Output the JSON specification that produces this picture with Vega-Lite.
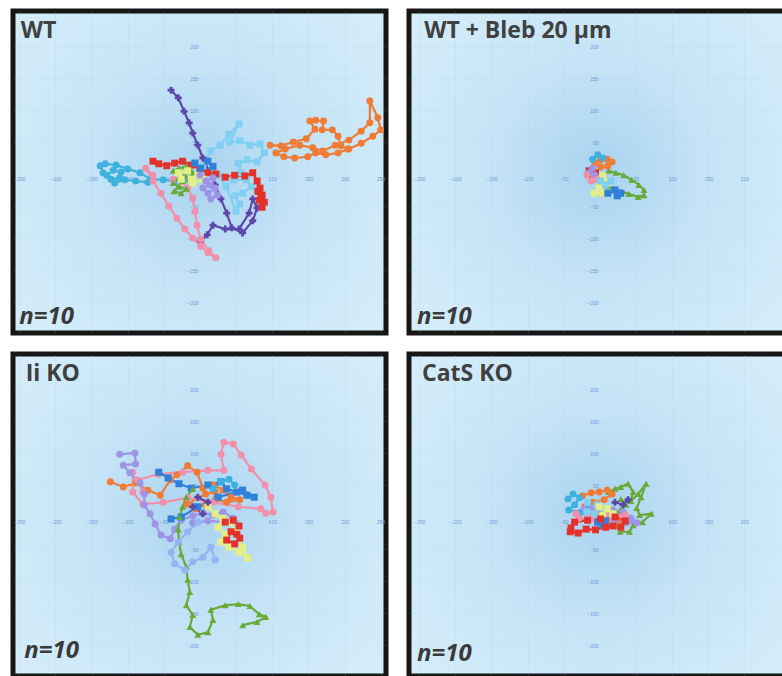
{
"$schema":"https://vega.github.io/schema/vega-lite/v6.json",
"padding":{"left":10,"top":8,"right":-4,"bottom":3},
"background":"white",
"bounds":"flush",
"align":"each",
"columns":2,
"spacing":{"row":21,"column":23},
"config":{
 "axis":{"domain":false,"ticks":false,"labelFontSize":5,"labelColor":"#6a9bd8","labelPadding":2,"labelFont":"Liberation Sans","grid":true,"gridColor":"#9fc9e6","gridOpacity":0.25,"gridWidth":0.6,"labelFlush":false,"labelOverlap":false,"title":null},
 "view":{"stroke":"#161616","strokeWidth":5}
},
"datasets":{
"labels":[
{"p":"WT","k":"title","t":"WT"},{"p":"WT","k":"n","t":"n=10"},
{"p":"Bleb","k":"title","t":"WT + Bleb 20 µm"},{"p":"Bleb","k":"n","t":"n=10"},
{"p":"Ii","k":"title","t":"Ii KO"},{"p":"Ii","k":"n","t":"n=10"},
{"p":"CatS","k":"title","t":"CatS KO"},{"p":"CatS","k":"n","t":"n=10"}
],
"tracks":[
{"p":"WT","s":"purple","i":0,"x":-40,"y":131},{"p":"WT","s":"purple","i":1,"x":-30,"y":119},{"p":"WT","s":"purple","i":2,"x":-22,"y":98},{"p":"WT","s":"purple","i":3,"x":-15,"y":80},{"p":"WT","s":"purple","i":4,"x":-10,"y":64},{"p":"WT","s":"purple","i":5,"x":-3,"y":45},{"p":"WT","s":"purple","i":6,"x":4,"y":25},{"p":"WT","s":"purple","i":7,"x":12,"y":5},{"p":"WT","s":"purple","i":8,"x":21,"y":-17},{"p":"WT","s":"purple","i":9,"x":29,"y":-39},{"p":"WT","s":"purple","i":10,"x":37,"y":-61},{"p":"WT","s":"purple","i":11,"x":44,"y":-84},{"p":"WT","s":"purple","i":12,"x":59,"y":-92},{"p":"WT","s":"purple","i":13,"x":73,"y":-73},{"p":"WT","s":"purple","i":14,"x":79,"y":-53},{"p":"WT","s":"purple","i":15,"x":73,"y":-39},{"p":"WT","s":"purple","i":16,"x":68,"y":-61},{"p":"WT","s":"purple","i":17,"x":54,"y":-86},{"p":"WT","s":"purple","i":18,"x":35,"y":-86},{"p":"WT","s":"purple","i":19,"x":18,"y":-80},{"p":"WT","s":"purple","i":20,"x":10,"y":-95},{"p":"WT","s":"purple","i":21,"x":1,"y":-105},
{"p":"WT","s":"orange","i":0,"x":97,"y":45},{"p":"WT","s":"orange","i":1,"x":112,"y":44},{"p":"WT","s":"orange","i":2,"x":129,"y":50},{"p":"WT","s":"orange","i":3,"x":147,"y":55},{"p":"WT","s":"orange","i":4,"x":159,"y":70},{"p":"WT","s":"orange","i":5,"x":152,"y":83},{"p":"WT","s":"orange","i":6,"x":160,"y":84},{"p":"WT","s":"orange","i":7,"x":171,"y":83},{"p":"WT","s":"orange","i":8,"x":169,"y":69},{"p":"WT","s":"orange","i":9,"x":183,"y":69},{"p":"WT","s":"orange","i":10,"x":191,"y":59},{"p":"WT","s":"orange","i":11,"x":195,"y":44},{"p":"WT","s":"orange","i":12,"x":205,"y":39},{"p":"WT","s":"orange","i":13,"x":191,"y":33},{"p":"WT","s":"orange","i":14,"x":174,"y":30},{"p":"WT","s":"orange","i":15,"x":160,"y":33},{"p":"WT","s":"orange","i":16,"x":149,"y":27},{"p":"WT","s":"orange","i":17,"x":131,"y":25},{"p":"WT","s":"orange","i":18,"x":116,"y":27},{"p":"WT","s":"orange","i":19,"x":105,"y":33},{"p":"WT","s":"orange","i":20,"x":118,"y":39},{"p":"WT","s":"orange","i":21,"x":138,"y":45},{"p":"WT","s":"orange","i":22,"x":156,"y":41},{"p":"WT","s":"orange","i":23,"x":170,"y":36},{"p":"WT","s":"orange","i":24,"x":187,"y":45},{"p":"WT","s":"orange","i":25,"x":206,"y":53},{"p":"WT","s":"orange","i":26,"x":223,"y":67},{"p":"WT","s":"orange","i":27,"x":235,"y":80},{"p":"WT","s":"orange","i":28,"x":235,"y":114},{"p":"WT","s":"orange","i":29,"x":246,"y":88},{"p":"WT","s":"orange","i":30,"x":250,"y":69},{"p":"WT","s":"orange","i":31,"x":239,"y":59},{"p":"WT","s":"orange","i":32,"x":223,"y":48},{"p":"WT","s":"orange","i":33,"x":206,"y":39},
{"p":"WT","s":"ltblue","i":0,"x":4,"y":12},{"p":"WT","s":"ltblue","i":1,"x":15,"y":36},{"p":"WT","s":"ltblue","i":2,"x":28,"y":45},{"p":"WT","s":"ltblue","i":3,"x":40,"y":62},{"p":"WT","s":"ltblue","i":4,"x":54,"y":78},{"p":"WT","s":"ltblue","i":5,"x":41,"y":50},{"p":"WT","s":"ltblue","i":6,"x":55,"y":52},{"p":"WT","s":"ltblue","i":7,"x":69,"y":45},{"p":"WT","s":"ltblue","i":8,"x":83,"y":47},{"p":"WT","s":"ltblue","i":9,"x":89,"y":33},{"p":"WT","s":"ltblue","i":10,"x":79,"y":19},{"p":"WT","s":"ltblue","i":11,"x":65,"y":22},{"p":"WT","s":"ltblue","i":12,"x":53,"y":17},{"p":"WT","s":"ltblue","i":13,"x":57,"y":2},{"p":"WT","s":"ltblue","i":14,"x":46,"y":-9},{"p":"WT","s":"ltblue","i":15,"x":64,"y":-9},{"p":"WT","s":"ltblue","i":16,"x":71,"y":-20},{"p":"WT","s":"ltblue","i":17,"x":59,"y":-30},{"p":"WT","s":"ltblue","i":18,"x":48,"y":-34},{"p":"WT","s":"ltblue","i":19,"x":55,"y":-47},{"p":"WT","s":"ltblue","i":20,"x":50,"y":-58},{"p":"WT","s":"ltblue","i":21,"x":36,"y":-19},{"p":"WT","s":"ltblue","i":22,"x":25,"y":-2},{"p":"WT","s":"ltblue","i":23,"x":17,"y":8},
{"p":"WT","s":"red","i":0,"x":-65,"y":20},{"p":"WT","s":"red","i":1,"x":-57,"y":16},{"p":"WT","s":"red","i":2,"x":-46,"y":13},{"p":"WT","s":"red","i":3,"x":-35,"y":17},{"p":"WT","s":"red","i":4,"x":-24,"y":20},{"p":"WT","s":"red","i":5,"x":-12,"y":14},{"p":"WT","s":"red","i":6,"x":0,"y":8},{"p":"WT","s":"red","i":7,"x":11,"y":2},{"p":"WT","s":"red","i":8,"x":22,"y":0},{"p":"WT","s":"red","i":9,"x":35,"y":-5},{"p":"WT","s":"red","i":10,"x":48,"y":-2},{"p":"WT","s":"red","i":11,"x":62,"y":-3},{"p":"WT","s":"red","i":12,"x":73,"y":2},{"p":"WT","s":"red","i":13,"x":79,"y":-11},{"p":"WT","s":"red","i":14,"x":83,"y":-22},{"p":"WT","s":"red","i":15,"x":86,"y":-33},{"p":"WT","s":"red","i":16,"x":89,"y":-44},{"p":"WT","s":"red","i":17,"x":86,"y":-52},{"p":"WT","s":"red","i":18,"x":82,"y":-41},{"p":"WT","s":"red","i":19,"x":80,"y":-27},
{"p":"WT","s":"cyan","i":0,"x":-17,"y":-8},{"p":"WT","s":"cyan","i":1,"x":-35,"y":-11},{"p":"WT","s":"cyan","i":2,"x":-51,"y":-9},{"p":"WT","s":"cyan","i":3,"x":-68,"y":-8},{"p":"WT","s":"cyan","i":4,"x":-83,"y":2},{"p":"WT","s":"cyan","i":5,"x":-100,"y":8},{"p":"WT","s":"cyan","i":6,"x":-116,"y":14},{"p":"WT","s":"cyan","i":7,"x":-131,"y":16},{"p":"WT","s":"cyan","i":8,"x":-138,"y":13},{"p":"WT","s":"cyan","i":9,"x":-134,"y":2},{"p":"WT","s":"cyan","i":10,"x":-123,"y":-8},{"p":"WT","s":"cyan","i":11,"x":-111,"y":-6},{"p":"WT","s":"cyan","i":12,"x":-109,"y":3},{"p":"WT","s":"cyan","i":13,"x":-120,"y":6},{"p":"WT","s":"cyan","i":14,"x":-129,"y":-2},{"p":"WT","s":"cyan","i":15,"x":-118,"y":-14},{"p":"WT","s":"cyan","i":16,"x":-104,"y":-9},{"p":"WT","s":"cyan","i":17,"x":-89,"y":-11},{"p":"WT","s":"cyan","i":18,"x":-72,"y":-13},
{"p":"WT","s":"pink","i":0,"x":-65,"y":-2},{"p":"WT","s":"pink","i":1,"x":-75,"y":9},{"p":"WT","s":"pink","i":2,"x":-65,"y":-11},{"p":"WT","s":"pink","i":3,"x":-54,"y":-30},{"p":"WT","s":"pink","i":4,"x":-43,"y":-50},{"p":"WT","s":"pink","i":5,"x":-32,"y":-69},{"p":"WT","s":"pink","i":6,"x":-21,"y":-86},{"p":"WT","s":"pink","i":7,"x":-10,"y":-100},{"p":"WT","s":"pink","i":8,"x":1,"y":-113},{"p":"WT","s":"pink","i":9,"x":11,"y":-123},{"p":"WT","s":"pink","i":10,"x":22,"y":-131},{"p":"WT","s":"pink","i":11,"x":12,"y":-120},{"p":"WT","s":"pink","i":12,"x":1,"y":-102},{"p":"WT","s":"pink","i":13,"x":-4,"y":-80},{"p":"WT","s":"pink","i":14,"x":-7,"y":-58},{"p":"WT","s":"pink","i":15,"x":-10,"y":-38},{"p":"WT","s":"pink","i":16,"x":-17,"y":-22},{"p":"WT","s":"pink","i":17,"x":-26,"y":-11},{"p":"WT","s":"pink","i":18,"x":-37,"y":-8},
{"p":"WT","s":"green","i":0,"x":-37,"y":5},{"p":"WT","s":"green","i":1,"x":-29,"y":9},{"p":"WT","s":"green","i":2,"x":-19,"y":12},{"p":"WT","s":"green","i":3,"x":-12,"y":5},{"p":"WT","s":"green","i":4,"x":-21,"y":-2},{"p":"WT","s":"green","i":5,"x":-30,"y":-6},{"p":"WT","s":"green","i":6,"x":-37,"y":-14},{"p":"WT","s":"green","i":7,"x":-29,"y":-20},{"p":"WT","s":"green","i":8,"x":-19,"y":-23},{"p":"WT","s":"green","i":9,"x":-26,"y":-30},{"p":"WT","s":"green","i":10,"x":-36,"y":-27},{"p":"WT","s":"green","i":11,"x":-24,"y":-11},{"p":"WT","s":"green","i":12,"x":-15,"y":-8},{"p":"WT","s":"green","i":13,"x":-10,"y":2},
{"p":"WT","s":"yellow","i":0,"x":-30,"y":2},{"p":"WT","s":"yellow","i":1,"x":-17,"y":5},{"p":"WT","s":"yellow","i":2,"x":-3,"y":-2},{"p":"WT","s":"yellow","i":3,"x":-12,"y":-8},{"p":"WT","s":"yellow","i":4,"x":-26,"y":-8},{"p":"WT","s":"yellow","i":5,"x":-10,"y":-14},{"p":"WT","s":"yellow","i":6,"x":4,"y":-8},
{"p":"WT","s":"lavender","i":0,"x":0,"y":-2},{"p":"WT","s":"lavender","i":1,"x":8,"y":-11},{"p":"WT","s":"lavender","i":2,"x":18,"y":-6},{"p":"WT","s":"lavender","i":3,"x":21,"y":-22},{"p":"WT","s":"lavender","i":4,"x":11,"y":-30},{"p":"WT","s":"lavender","i":5,"x":4,"y":-22},{"p":"WT","s":"lavender","i":6,"x":14,"y":-17},{"p":"WT","s":"lavender","i":7,"x":24,"y":-33},{"p":"WT","s":"lavender","i":8,"x":15,"y":-39},
{"p":"WT","s":"blue","i":0,"x":-7,"y":17},{"p":"WT","s":"blue","i":1,"x":1,"y":9},{"p":"WT","s":"blue","i":2,"x":11,"y":20},{"p":"WT","s":"blue","i":3,"x":18,"y":12},
{"p":"Ii","s":"orange","i":0,"x":-124,"y":55},{"p":"Ii","s":"orange","i":1,"x":-106,"y":47},{"p":"Ii","s":"orange","i":2,"x":-89,"y":53},{"p":"Ii","s":"orange","i":3,"x":-72,"y":42},{"p":"Ii","s":"orange","i":4,"x":-55,"y":34},{"p":"Ii","s":"orange","i":5,"x":-41,"y":58},{"p":"Ii","s":"orange","i":6,"x":-32,"y":66},{"p":"Ii","s":"orange","i":7,"x":-17,"y":80},{"p":"Ii","s":"orange","i":8,"x":-4,"y":70},{"p":"Ii","s":"orange","i":9,"x":4,"y":45},{"p":"Ii","s":"orange","i":10,"x":18,"y":50},{"p":"Ii","s":"orange","i":11,"x":32,"y":42},{"p":"Ii","s":"orange","i":12,"x":43,"y":31},{"p":"Ii","s":"orange","i":13,"x":55,"y":27},{"p":"Ii","s":"orange","i":14,"x":37,"y":23},{"p":"Ii","s":"orange","i":15,"x":22,"y":28},{"p":"Ii","s":"orange","i":16,"x":8,"y":20},{"p":"Ii","s":"orange","i":17,"x":-6,"y":13},{"p":"Ii","s":"orange","i":18,"x":-18,"y":20},{"p":"Ii","s":"orange","i":19,"x":8,"y":36},{"p":"Ii","s":"orange","i":20,"x":21,"y":39},
{"p":"Ii","s":"pink","i":0,"x":-93,"y":70},{"p":"Ii","s":"pink","i":1,"x":-93,"y":39},{"p":"Ii","s":"pink","i":2,"x":-79,"y":20},{"p":"Ii","s":"pink","i":3,"x":-51,"y":23},{"p":"Ii","s":"pink","i":4,"x":-17,"y":30},{"p":"Ii","s":"pink","i":5,"x":18,"y":23},{"p":"Ii","s":"pink","i":6,"x":53,"y":16},{"p":"Ii","s":"pink","i":7,"x":84,"y":13},{"p":"Ii","s":"pink","i":8,"x":91,"y":6},{"p":"Ii","s":"pink","i":9,"x":101,"y":8},{"p":"Ii","s":"pink","i":10,"x":98,"y":31},{"p":"Ii","s":"pink","i":11,"x":90,"y":50},{"p":"Ii","s":"pink","i":12,"x":71,"y":75},{"p":"Ii","s":"pink","i":13,"x":57,"y":97},{"p":"Ii","s":"pink","i":14,"x":46,"y":114},{"p":"Ii","s":"pink","i":15,"x":33,"y":117},{"p":"Ii","s":"pink","i":16,"x":29,"y":98},{"p":"Ii","s":"pink","i":17,"x":33,"y":73},{"p":"Ii","s":"pink","i":18,"x":11,"y":73},{"p":"Ii","s":"pink","i":19,"x":-24,"y":70},{"p":"Ii","s":"pink","i":20,"x":-58,"y":67},{"p":"Ii","s":"pink","i":21,"x":-86,"y":58},{"p":"Ii","s":"pink","i":22,"x":-79,"y":39},
{"p":"Ii","s":"lavender","i":0,"x":-111,"y":98},{"p":"Ii","s":"lavender","i":1,"x":-90,"y":100},{"p":"Ii","s":"lavender","i":2,"x":-89,"y":83},{"p":"Ii","s":"lavender","i":3,"x":-106,"y":81},{"p":"Ii","s":"lavender","i":4,"x":-97,"y":69},{"p":"Ii","s":"lavender","i":5,"x":-83,"y":53},{"p":"Ii","s":"lavender","i":6,"x":-77,"y":36},{"p":"Ii","s":"lavender","i":7,"x":-77,"y":19},{"p":"Ii","s":"lavender","i":8,"x":-69,"y":5},{"p":"Ii","s":"lavender","i":9,"x":-62,"y":-11},{"p":"Ii","s":"lavender","i":10,"x":-54,"y":-28},{"p":"Ii","s":"lavender","i":11,"x":-41,"y":-34},{"p":"Ii","s":"lavender","i":12,"x":-35,"y":-19},{"p":"Ii","s":"lavender","i":13,"x":-26,"y":-5},{"p":"Ii","s":"lavender","i":14,"x":-10,"y":2},{"p":"Ii","s":"lavender","i":15,"x":4,"y":6},{"p":"Ii","s":"lavender","i":16,"x":18,"y":3},{"p":"Ii","s":"lavender","i":17,"x":32,"y":8},{"p":"Ii","s":"lavender","i":18,"x":46,"y":-2},{"p":"Ii","s":"lavender","i":19,"x":35,"y":-8},{"p":"Ii","s":"lavender","i":20,"x":11,"y":-6},{"p":"Ii","s":"lavender","i":21,"x":-10,"y":-9},
{"p":"Ii","s":"blue","i":0,"x":-57,"y":70},{"p":"Ii","s":"blue","i":1,"x":-44,"y":61},{"p":"Ii","s":"blue","i":2,"x":-29,"y":52},{"p":"Ii","s":"blue","i":3,"x":-12,"y":45},{"p":"Ii","s":"blue","i":4,"x":11,"y":50},{"p":"Ii","s":"blue","i":5,"x":29,"y":55},{"p":"Ii","s":"blue","i":6,"x":37,"y":44},{"p":"Ii","s":"blue","i":7,"x":51,"y":39},{"p":"Ii","s":"blue","i":8,"x":65,"y":34},{"p":"Ii","s":"blue","i":9,"x":75,"y":31},{"p":"Ii","s":"blue","i":10,"x":59,"y":42},{"p":"Ii","s":"blue","i":11,"x":25,"y":31},{"p":"Ii","s":"blue","i":12,"x":-3,"y":16},{"p":"Ii","s":"blue","i":13,"x":-26,"y":0},{"p":"Ii","s":"blue","i":14,"x":-40,"y":-3},
{"p":"Ii","s":"green","i":0,"x":-10,"y":44},{"p":"Ii","s":"green","i":1,"x":-19,"y":31},{"p":"Ii","s":"green","i":2,"x":-24,"y":16},{"p":"Ii","s":"green","i":3,"x":-28,"y":0},{"p":"Ii","s":"green","i":4,"x":-30,"y":-19},{"p":"Ii","s":"green","i":5,"x":-29,"y":-39},{"p":"Ii","s":"green","i":6,"x":-26,"y":-58},{"p":"Ii","s":"green","i":7,"x":-19,"y":-78},{"p":"Ii","s":"green","i":8,"x":-17,"y":-98},{"p":"Ii","s":"green","i":9,"x":-14,"y":-117},{"p":"Ii","s":"green","i":10,"x":-19,"y":-138},{"p":"Ii","s":"green","i":11,"x":-10,"y":-153},{"p":"Ii","s":"green","i":12,"x":-14,"y":-172},{"p":"Ii","s":"green","i":13,"x":-3,"y":-184},{"p":"Ii","s":"green","i":14,"x":11,"y":-180},{"p":"Ii","s":"green","i":15,"x":18,"y":-161},{"p":"Ii","s":"green","i":16,"x":15,"y":-145},{"p":"Ii","s":"green","i":17,"x":35,"y":-138},{"p":"Ii","s":"green","i":18,"x":53,"y":-136},{"p":"Ii","s":"green","i":19,"x":69,"y":-139},{"p":"Ii","s":"green","i":20,"x":82,"y":-152},{"p":"Ii","s":"green","i":21,"x":91,"y":-156},{"p":"Ii","s":"green","i":22,"x":79,"y":-164},{"p":"Ii","s":"green","i":23,"x":59,"y":-169},
{"p":"Ii","s":"yellow","i":0,"x":11,"y":16},{"p":"Ii","s":"yellow","i":1,"x":21,"y":5},{"p":"Ii","s":"yellow","i":2,"x":32,"y":-2},{"p":"Ii","s":"yellow","i":3,"x":25,"y":-16},{"p":"Ii","s":"yellow","i":4,"x":35,"y":-27},{"p":"Ii","s":"yellow","i":5,"x":29,"y":-39},{"p":"Ii","s":"yellow","i":6,"x":40,"y":-47},{"p":"Ii","s":"yellow","i":7,"x":54,"y":-55},{"p":"Ii","s":"yellow","i":8,"x":66,"y":-64},{"p":"Ii","s":"yellow","i":9,"x":59,"y":-47},{"p":"Ii","s":"yellow","i":10,"x":50,"y":-23},{"p":"Ii","s":"yellow","i":11,"x":40,"y":-8},
{"p":"Ii","s":"red","i":0,"x":35,"y":-8},{"p":"Ii","s":"red","i":1,"x":46,"y":-5},{"p":"Ii","s":"red","i":2,"x":54,"y":-14},{"p":"Ii","s":"red","i":3,"x":51,"y":-27},{"p":"Ii","s":"red","i":4,"x":43,"y":-23},{"p":"Ii","s":"red","i":5,"x":37,"y":-36},{"p":"Ii","s":"red","i":6,"x":48,"y":-42},{"p":"Ii","s":"red","i":7,"x":55,"y":-33},
{"p":"Ii","s":"peri","i":0,"x":-3,"y":-8},{"p":"Ii","s":"peri","i":1,"x":-17,"y":-23},{"p":"Ii","s":"peri","i":2,"x":-30,"y":-39},{"p":"Ii","s":"peri","i":3,"x":-40,"y":-55},{"p":"Ii","s":"peri","i":4,"x":-35,"y":-73},{"p":"Ii","s":"peri","i":5,"x":-21,"y":-83},{"p":"Ii","s":"peri","i":6,"x":-10,"y":-70},{"p":"Ii","s":"peri","i":7,"x":4,"y":-63},{"p":"Ii","s":"peri","i":8,"x":15,"y":-47},{"p":"Ii","s":"peri","i":9,"x":21,"y":-67},
{"p":"Ii","s":"cyan","i":0,"x":18,"y":44},{"p":"Ii","s":"cyan","i":1,"x":29,"y":55},{"p":"Ii","s":"cyan","i":2,"x":40,"y":59},{"p":"Ii","s":"cyan","i":3,"x":48,"y":50},
{"p":"Ii","s":"purple","i":0,"x":-10,"y":16},{"p":"Ii","s":"purple","i":1,"x":4,"y":5},{"p":"Ii","s":"purple","i":2,"x":11,"y":23},{"p":"Ii","s":"purple","i":3,"x":-3,"y":31},
{"p":"Bleb","s":"green","i":0,"x":12,"y":5},{"p":"Bleb","s":"green","i":1,"x":22,"y":2},{"p":"Bleb","s":"green","i":2,"x":33,"y":-2},{"p":"Bleb","s":"green","i":3,"x":44,"y":-9},{"p":"Bleb","s":"green","i":4,"x":54,"y":-17},{"p":"Bleb","s":"green","i":5,"x":61,"y":-25},{"p":"Bleb","s":"green","i":6,"x":61,"y":-33},{"p":"Bleb","s":"green","i":7,"x":53,"y":-36},{"p":"Bleb","s":"green","i":8,"x":40,"y":-31},{"p":"Bleb","s":"green","i":9,"x":29,"y":-27},{"p":"Bleb","s":"green","i":10,"x":19,"y":-23},{"p":"Bleb","s":"green","i":11,"x":12,"y":-19},
{"p":"Bleb","s":"orange","i":0,"x":-7,"y":17},{"p":"Bleb","s":"orange","i":1,"x":1,"y":22},{"p":"Bleb","s":"orange","i":2,"x":10,"y":23},{"p":"Bleb","s":"orange","i":3,"x":17,"y":19},{"p":"Bleb","s":"orange","i":4,"x":11,"y":12},{"p":"Bleb","s":"orange","i":5,"x":1,"y":11},
{"p":"Bleb","s":"red","i":0,"x":-15,"y":5},{"p":"Bleb","s":"red","i":1,"x":-11,"y":-2},{"p":"Bleb","s":"red","i":2,"x":-6,"y":2},{"p":"Bleb","s":"red","i":3,"x":-10,"y":-8},
{"p":"Bleb","s":"yellow","i":0,"x":-7,"y":-6},{"p":"Bleb","s":"yellow","i":1,"x":4,"y":-3},{"p":"Bleb","s":"yellow","i":2,"x":10,"y":-14},{"p":"Bleb","s":"yellow","i":3,"x":-1,"y":-20},{"p":"Bleb","s":"yellow","i":4,"x":-8,"y":-30},{"p":"Bleb","s":"yellow","i":5,"x":4,"y":-30},
{"p":"Bleb","s":"blue","i":0,"x":11,"y":-30},{"p":"Bleb","s":"blue","i":1,"x":21,"y":-25},{"p":"Bleb","s":"blue","i":2,"x":29,"y":-30},{"p":"Bleb","s":"blue","i":3,"x":24,"y":-34},
{"p":"Bleb","s":"cyan","i":0,"x":-10,"y":23},{"p":"Bleb","s":"cyan","i":1,"x":-3,"y":30},{"p":"Bleb","s":"cyan","i":2,"x":4,"y":25},
{"p":"Bleb","s":"lavender","i":0,"x":-10,"y":9},{"p":"Bleb","s":"lavender","i":1,"x":-15,"y":2},{"p":"Bleb","s":"lavender","i":2,"x":-7,"y":-2},
{"p":"Bleb","s":"pink","i":0,"x":-18,"y":-2},{"p":"Bleb","s":"pink","i":1,"x":-12,"y":-11},{"p":"Bleb","s":"pink","i":2,"x":-4,"y":-8},
{"p":"Bleb","s":"ltblue","i":0,"x":1,"y":-11},{"p":"Bleb","s":"ltblue","i":1,"x":8,"y":-17},{"p":"Bleb","s":"ltblue","i":2,"x":15,"y":-11},
{"p":"CatS","s":"green","i":0,"x":12,"y":39},{"p":"CatS","s":"green","i":1,"x":21,"y":44},{"p":"CatS","s":"green","i":2,"x":29,"y":47},{"p":"CatS","s":"green","i":3,"x":39,"y":52},{"p":"CatS","s":"green","i":4,"x":46,"y":39},{"p":"CatS","s":"green","i":5,"x":43,"y":25},{"p":"CatS","s":"green","i":6,"x":53,"y":36},{"p":"CatS","s":"green","i":7,"x":64,"y":52},{"p":"CatS","s":"green","i":8,"x":57,"y":31},{"p":"CatS","s":"green","i":9,"x":51,"y":14},{"p":"CatS","s":"green","i":10,"x":55,"y":3},{"p":"CatS","s":"green","i":11,"x":71,"y":5},{"p":"CatS","s":"green","i":12,"x":59,"y":-8},{"p":"CatS","s":"green","i":13,"x":46,"y":-13},{"p":"CatS","s":"green","i":14,"x":41,"y":-23},{"p":"CatS","s":"green","i":15,"x":28,"y":-23},{"p":"CatS","s":"green","i":16,"x":21,"y":-13},{"p":"CatS","s":"green","i":17,"x":28,"y":11},{"p":"CatS","s":"green","i":18,"x":36,"y":19},{"p":"CatS","s":"green","i":19,"x":29,"y":28},
{"p":"CatS","s":"orange","i":0,"x":-24,"y":33},{"p":"CatS","s":"orange","i":1,"x":-12,"y":38},{"p":"CatS","s":"orange","i":2,"x":-1,"y":39},{"p":"CatS","s":"orange","i":3,"x":10,"y":42},{"p":"CatS","s":"orange","i":4,"x":17,"y":36},{"p":"CatS","s":"orange","i":5,"x":6,"y":27},{"p":"CatS","s":"orange","i":6,"x":-10,"y":23},{"p":"CatS","s":"orange","i":7,"x":-21,"y":16},{"p":"CatS","s":"orange","i":8,"x":-3,"y":8},{"p":"CatS","s":"orange","i":9,"x":14,"y":-3},{"p":"CatS","s":"orange","i":10,"x":25,"y":-8},
{"p":"CatS","s":"cyan","i":0,"x":-44,"y":28},{"p":"CatS","s":"cyan","i":1,"x":-37,"y":36},{"p":"CatS","s":"cyan","i":2,"x":-28,"y":30},{"p":"CatS","s":"cyan","i":3,"x":-35,"y":19},{"p":"CatS","s":"cyan","i":4,"x":-43,"y":11},{"p":"CatS","s":"cyan","i":5,"x":-26,"y":8},{"p":"CatS","s":"cyan","i":6,"x":-15,"y":14},
{"p":"CatS","s":"lavender","i":0,"x":-21,"y":13},{"p":"CatS","s":"lavender","i":1,"x":-10,"y":14},{"p":"CatS","s":"lavender","i":2,"x":4,"y":8},{"p":"CatS","s":"lavender","i":3,"x":18,"y":11},{"p":"CatS","s":"lavender","i":4,"x":32,"y":8},{"p":"CatS","s":"lavender","i":5,"x":43,"y":-2},{"p":"CatS","s":"lavender","i":6,"x":51,"y":-9},{"p":"CatS","s":"lavender","i":7,"x":37,"y":-9},{"p":"CatS","s":"lavender","i":8,"x":21,"y":-6},
{"p":"CatS","s":"pink","i":0,"x":-33,"y":5},{"p":"CatS","s":"pink","i":1,"x":-10,"y":2},{"p":"CatS","s":"pink","i":2,"x":11,"y":6},{"p":"CatS","s":"pink","i":3,"x":35,"y":3},{"p":"CatS","s":"pink","i":4,"x":15,"y":-2},{"p":"CatS","s":"pink","i":5,"x":-10,"y":-3},{"p":"CatS","s":"pink","i":6,"x":-29,"y":-2},
{"p":"CatS","s":"ltblue","i":0,"x":-17,"y":23},{"p":"CatS","s":"ltblue","i":1,"x":-4,"y":19},{"p":"CatS","s":"ltblue","i":2,"x":4,"y":11},{"p":"CatS","s":"ltblue","i":3,"x":-7,"y":5},{"p":"CatS","s":"ltblue","i":4,"x":-18,"y":8},
{"p":"CatS","s":"yellow","i":0,"x":-1,"y":16},{"p":"CatS","s":"yellow","i":1,"x":10,"y":13},{"p":"CatS","s":"yellow","i":2,"x":18,"y":5},{"p":"CatS","s":"yellow","i":3,"x":4,"y":2},
{"p":"CatS","s":"blue","i":0,"x":-3,"y":-8},{"p":"CatS","s":"blue","i":1,"x":8,"y":-6},{"p":"CatS","s":"blue","i":2,"x":4,"y":-13},
{"p":"CatS","s":"purple","i":0,"x":21,"y":23},{"p":"CatS","s":"purple","i":1,"x":32,"y":19},{"p":"CatS","s":"purple","i":2,"x":39,"y":27},
{"p":"CatS","s":"red","i":0,"x":-41,"y":-23},{"p":"CatS","s":"red","i":1,"x":-30,"y":-25},{"p":"CatS","s":"red","i":2,"x":-19,"y":-19},{"p":"CatS","s":"red","i":3,"x":-6,"y":-20},{"p":"CatS","s":"red","i":4,"x":8,"y":-16},{"p":"CatS","s":"red","i":5,"x":18,"y":-14},{"p":"CatS","s":"red","i":6,"x":29,"y":-16},{"p":"CatS","s":"red","i":7,"x":35,"y":-6},{"p":"CatS","s":"red","i":8,"x":21,"y":0},{"p":"CatS","s":"red","i":9,"x":1,"y":-3},{"p":"CatS","s":"red","i":10,"x":-17,"y":-5},{"p":"CatS","s":"red","i":11,"x":-35,"y":-8},{"p":"CatS","s":"red","i":12,"x":-40,"y":-17}
]},
"concat":[
{"width":373,"height":322,
 "view":{"stroke":"#161616","strokeWidth":5,"fill":{"gradient":"radial","x1":0.5,"y1":0.5,"r1":0,"x2":0.5,"y2":0.5,"r2":0.62,"stops":[{"offset":0,"color":"#a9d3f0"},{"offset":0.45,"color":"#c4e3f6"},{"offset":1,"color":"#d5edfa"}]}},
 "layer":[
  {"data":{"name":"tracks"},"transform":[{"filter":"datum.p==='WT'"}],"mark":{"type":"line","clip":true},"encoding":{
    "x":{"field":"x","type":"quantitative","scale":{"domain":[-258.6,257.3],"nice":false,"zero":false},"axis":{"offset":-159,"values":[-250,-200,-150,-100,-50,50,100,150,200,250]}},
    "y":{"field":"y","type":"quantitative","scale":{"domain":[-248.4,254.7],"nice":false,"zero":false},"axis":{"offset":-187,"values":[-200,-150,-100,-50,50,100,150,200]}},
    "color":{"field":"s","type":"nominal","legend":null,"scale":{"domain":["orange","red","ltblue","green","purple","pink","cyan","lavender","yellow","blue","peri"],"range":["#ef7b34","#e2322b","#7fd0f2","#67aa36","#5c46aa","#f28fab","#3fb1de","#9e94e6","#e3ef83","#2f80d8","#93b5ef"]}},
    "order":{"field":"i","type":"quantitative"},
    "strokeWidth":{"field":"s","type":"nominal","legend":null,"scale":{"domain":["orange","red","ltblue","green","purple","pink","cyan","lavender","yellow","blue","peri"],"range":[2.2,2.2,2,2,3,1.5,2,2,1.8,2.5,2]}}}},
  {"data":{"name":"tracks"},"transform":[{"filter":"datum.p==='WT'"}],"mark":{"type":"point","filled":true,"opacity":1,"clip":true},"encoding":{
    "x":{"field":"x","type":"quantitative"},
    "y":{"field":"y","type":"quantitative"},
    "color":{"field":"s","type":"nominal","legend":null},
    "shape":{"field":"s","type":"nominal","legend":null,"scale":{"domain":["orange","red","ltblue","green","purple","pink","cyan","lavender","yellow","blue","peri"],"range":["circle","square","square","triangle-up","cross","circle","circle","circle","square","square","circle"]}},
    "size":{"field":"s","type":"nominal","legend":null,"scale":{"domain":["orange","red","ltblue","green","purple","pink","cyan","lavender","yellow","blue","peri"],"range":[48,50,50,40,14,6,12,22,14,28,10]}}}},
  {"data":{"name":"labels"},"transform":[{"filter":"datum.p==='WT' && datum.k==='title'"}],"mark":{"type":"text","align":"left","baseline":"alphabetic","font":"Open Sans","fontWeight":"bold","fontSize":23,"color":"#404040"},"encoding":{"x":{"datum":-248},"y":{"datum":213},"text":{"field":"t","type":"nominal"}}},
  {"data":{"name":"labels"},"transform":[{"filter":"datum.p==='WT' && datum.k==='n'"}],"mark":{"type":"text","align":"left","baseline":"alphabetic","font":"Open Sans","fontWeight":"bold","fontStyle":"italic","fontSize":24,"color":"#3a3a3a"},"encoding":{"x":{"datum":-250},"y":{"datum":-235},"text":{"field":"t","type":"nominal"}}}
 ]},
{"width":380,"height":322,
 "view":{"stroke":"#161616","strokeWidth":5,"fill":{"gradient":"radial","x1":0.5,"y1":0.5,"r1":0,"x2":0.5,"y2":0.5,"r2":0.62,"stops":[{"offset":0,"color":"#a9d3f0"},{"offset":0.45,"color":"#c4e3f6"},{"offset":1,"color":"#d5edfa"}]}},
 "layer":[
  {"data":{"name":"tracks"},"transform":[{"filter":"datum.p==='Bleb'"}],"mark":{"type":"line","clip":true},"encoding":{
    "x":{"field":"x","type":"quantitative","scale":{"domain":[-264,261.6],"nice":false,"zero":false},"axis":{"offset":-159,"values":[-250,-200,-150,-100,-50,50,100,150,200]}},
    "y":{"field":"y","type":"quantitative","scale":{"domain":[-248.4,254.7],"nice":false,"zero":false},"axis":{"offset":-191,"values":[-200,-150,-100,-50,50,100,150,200]}},
    "color":{"field":"s","type":"nominal","legend":null,"scale":{"domain":["orange","red","ltblue","green","purple","pink","cyan","lavender","yellow","blue","peri"],"range":["#ef7b34","#e2322b","#7fd0f2","#67aa36","#5c46aa","#f28fab","#3fb1de","#9e94e6","#e3ef83","#2f80d8","#93b5ef"]}},
    "order":{"field":"i","type":"quantitative"},
    "strokeWidth":{"field":"s","type":"nominal","legend":null,"scale":{"domain":["orange","red","ltblue","green","purple","pink","cyan","lavender","yellow","blue","peri"],"range":[2,2,1.8,3,2,1.5,1.8,1.8,2.2,2.2,1.8]}}}},
  {"data":{"name":"tracks"},"transform":[{"filter":"datum.p==='Bleb'"}],"mark":{"type":"point","filled":true,"opacity":1,"clip":true},"encoding":{
    "x":{"field":"x","type":"quantitative"},
    "y":{"field":"y","type":"quantitative"},
    "color":{"field":"s","type":"nominal","legend":null},
    "shape":{"field":"s","type":"nominal","legend":null,"scale":{"domain":["orange","red","ltblue","green","purple","pink","cyan","lavender","yellow","blue","peri"],"range":["circle","square","square","triangle-up","cross","circle","circle","circle","square","square","circle"]}},
    "size":{"field":"s","type":"nominal","legend":null,"scale":{"domain":["orange","red","ltblue","green","purple","pink","cyan","lavender","yellow","blue","peri"],"range":[30,22,18,12,8,5,8,10,10,14,6]}}}},
  {"data":{"name":"labels"},"transform":[{"filter":"datum.p==='Bleb' && datum.k==='title'"}],"mark":{"type":"text","align":"left","baseline":"alphabetic","font":"Open Sans","fontWeight":"bold","fontSize":23,"color":"#404040"},"encoding":{"x":{"datum":-243},"y":{"datum":213},"text":{"field":"t","type":"nominal"}}},
  {"data":{"name":"labels"},"transform":[{"filter":"datum.p==='Bleb' && datum.k==='n'"}],"mark":{"type":"text","align":"left","baseline":"alphabetic","font":"Open Sans","fontWeight":"bold","fontStyle":"italic","fontSize":24,"color":"#3a3a3a"},"encoding":{"x":{"datum":-253},"y":{"datum":-235},"text":{"field":"t","type":"nominal"}}}
 ]},
{"width":373,"height":322,
 "view":{"stroke":"#161616","strokeWidth":5,"fill":{"gradient":"radial","x1":0.5,"y1":0.5,"r1":0,"x2":0.5,"y2":0.5,"r2":0.62,"stops":[{"offset":0,"color":"#a9d3f0"},{"offset":0.45,"color":"#c4e3f6"},{"offset":1,"color":"#d5edfa"}]}},
 "layer":[
  {"data":{"name":"tracks"},"transform":[{"filter":"datum.p==='Ii'"}],"mark":{"type":"line","clip":true},"encoding":{
    "x":{"field":"x","type":"quantitative","scale":{"domain":[-258.6,257.3],"nice":false,"zero":false},"axis":{"offset":-159,"values":[-250,-200,-150,-100,-50,50,100,150,200,250]}},
    "y":{"field":"y","type":"quantitative","scale":{"domain":[-248.4,254.7],"nice":false,"zero":false},"axis":{"offset":-187,"values":[-200,-150,-100,-50,50,100,150,200]}},
    "color":{"field":"s","type":"nominal","legend":null,"scale":{"domain":["orange","red","ltblue","green","purple","pink","cyan","lavender","yellow","blue","peri"],"range":["#ef7b34","#e2322b","#7fd0f2","#67aa36","#5c46aa","#f28fab","#3fb1de","#9e94e6","#e3ef83","#2f80d8","#93b5ef"]}},
    "order":{"field":"i","type":"quantitative"},
    "strokeWidth":{"field":"s","type":"nominal","legend":null,"scale":{"domain":["orange","red","ltblue","green","purple","pink","cyan","lavender","yellow","blue","peri"],"range":[2.2,2.2,2,2,3,1.5,2,2,1.8,2.5,2]}}}},
  {"data":{"name":"tracks"},"transform":[{"filter":"datum.p==='Ii'"}],"mark":{"type":"point","filled":true,"opacity":1,"clip":true},"encoding":{
    "x":{"field":"x","type":"quantitative"},
    "y":{"field":"y","type":"quantitative"},
    "color":{"field":"s","type":"nominal","legend":null},
    "shape":{"field":"s","type":"nominal","legend":null,"scale":{"domain":["orange","red","ltblue","green","purple","pink","cyan","lavender","yellow","blue","peri"],"range":["circle","square","square","triangle-up","cross","circle","circle","circle","square","square","circle"]}},
    "size":{"field":"s","type":"nominal","legend":null,"scale":{"domain":["orange","red","ltblue","green","purple","pink","cyan","lavender","yellow","blue","peri"],"range":[50,48,48,40,14,6,12,22,14,28,10]}}}},
  {"data":{"name":"labels"},"transform":[{"filter":"datum.p==='Ii' && datum.k==='title'"}],"mark":{"type":"text","align":"left","baseline":"alphabetic","font":"Open Sans","fontWeight":"bold","fontSize":23,"color":"#404040"},"encoding":{"x":{"datum":-241},"y":{"datum":213},"text":{"field":"t","type":"nominal"}}},
  {"data":{"name":"labels"},"transform":[{"filter":"datum.p==='Ii' && datum.k==='n'"}],"mark":{"type":"text","align":"left","baseline":"alphabetic","font":"Open Sans","fontWeight":"bold","fontStyle":"italic","fontSize":24,"color":"#3a3a3a"},"encoding":{"x":{"datum":-243},"y":{"datum":-220},"text":{"field":"t","type":"nominal"}}}
 ]},
{"width":380,"height":322,
 "view":{"stroke":"#161616","strokeWidth":5,"fill":{"gradient":"radial","x1":0.5,"y1":0.5,"r1":0,"x2":0.5,"y2":0.5,"r2":0.62,"stops":[{"offset":0,"color":"#a9d3f0"},{"offset":0.45,"color":"#c4e3f6"},{"offset":1,"color":"#d5edfa"}]}},
 "layer":[
  {"data":{"name":"tracks"},"transform":[{"filter":"datum.p==='CatS'"}],"mark":{"type":"line","clip":true},"encoding":{
    "x":{"field":"x","type":"quantitative","scale":{"domain":[-264,261.6],"nice":false,"zero":false},"axis":{"offset":-159,"values":[-250,-200,-150,-100,-50,50,100,150,200]}},
    "y":{"field":"y","type":"quantitative","scale":{"domain":[-248.4,254.7],"nice":false,"zero":false},"axis":{"offset":-191,"values":[-200,-150,-100,-50,50,100,150,200]}},
    "color":{"field":"s","type":"nominal","legend":null,"scale":{"domain":["orange","red","ltblue","green","purple","pink","cyan","lavender","yellow","blue","peri"],"range":["#ef7b34","#e2322b","#7fd0f2","#67aa36","#5c46aa","#f28fab","#3fb1de","#9e94e6","#e3ef83","#2f80d8","#93b5ef"]}},
    "order":{"field":"i","type":"quantitative"},
    "strokeWidth":{"field":"s","type":"nominal","legend":null,"scale":{"domain":["orange","red","ltblue","green","purple","pink","cyan","lavender","yellow","blue","peri"],"range":[2.2,2.2,2,2,3,1.5,2,2,1.8,2.5,2]}}}},
  {"data":{"name":"tracks"},"transform":[{"filter":"datum.p==='CatS'"}],"mark":{"type":"point","filled":true,"opacity":1,"clip":true},"encoding":{
    "x":{"field":"x","type":"quantitative"},
    "y":{"field":"y","type":"quantitative"},
    "color":{"field":"s","type":"nominal","legend":null},
    "shape":{"field":"s","type":"nominal","legend":null,"scale":{"domain":["orange","red","ltblue","green","purple","pink","cyan","lavender","yellow","blue","peri"],"range":["circle","square","square","triangle-up","cross","circle","circle","circle","square","square","circle"]}},
    "size":{"field":"s","type":"nominal","legend":null,"scale":{"domain":["orange","red","ltblue","green","purple","pink","cyan","lavender","yellow","blue","peri"],"range":[50,55,40,42,14,6,14,22,14,24,10]}}}},
  {"data":{"name":"labels"},"transform":[{"filter":"datum.p==='CatS' && datum.k==='title'"}],"mark":{"type":"text","align":"left","baseline":"alphabetic","font":"Open Sans","fontWeight":"bold","fontSize":23,"color":"#404040"},"encoding":{"x":{"datum":-246},"y":{"datum":213},"text":{"field":"t","type":"nominal"}}},
  {"data":{"name":"labels"},"transform":[{"filter":"datum.p==='CatS' && datum.k==='n'"}],"mark":{"type":"text","align":"left","baseline":"alphabetic","font":"Open Sans","fontWeight":"bold","fontStyle":"italic","fontSize":24,"color":"#3a3a3a"},"encoding":{"x":{"datum":-253},"y":{"datum":-225},"text":{"field":"t","type":"nominal"}}}
 ]}
]
}
